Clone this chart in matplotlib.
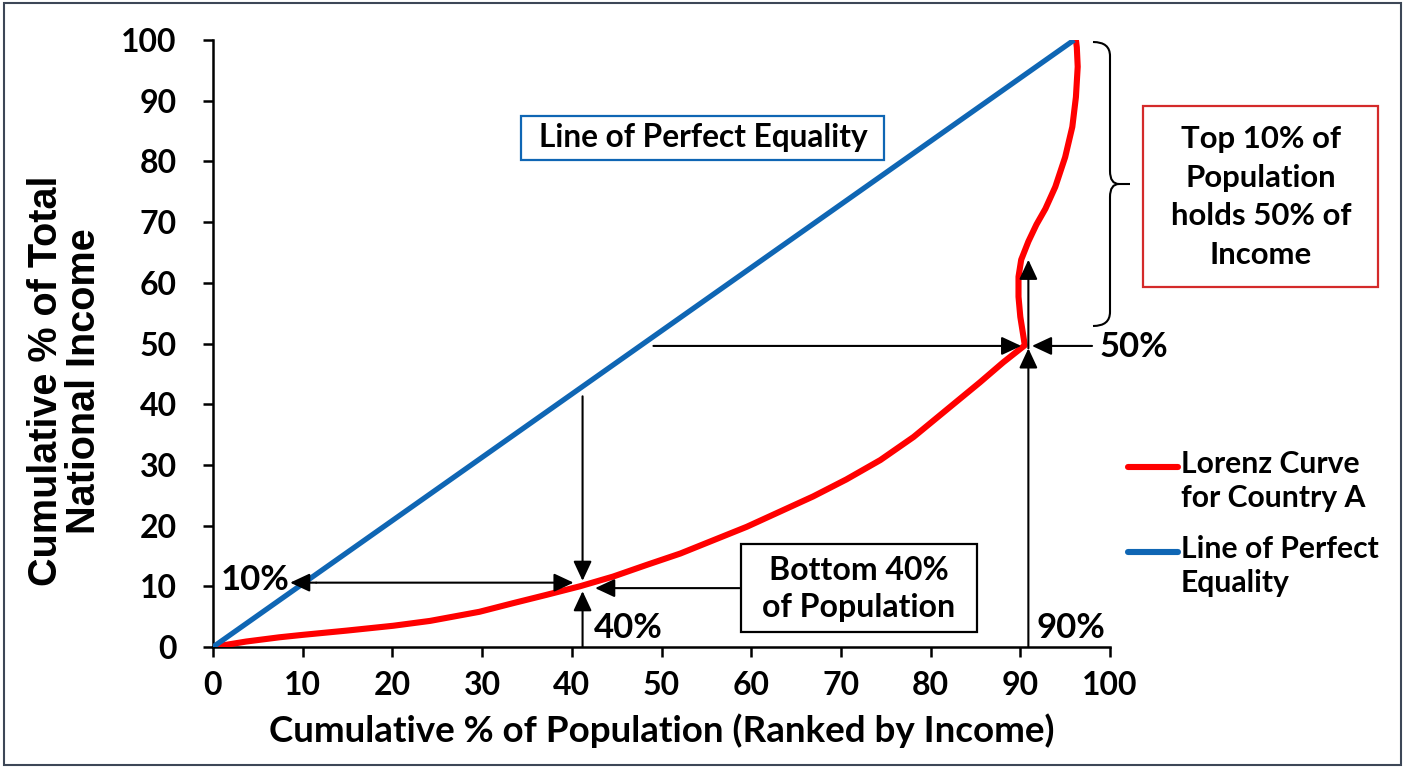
import matplotlib
matplotlib.use("Agg")
import matplotlib.pyplot as plt
from matplotlib.patches import Rectangle, PathPatch
from matplotlib.path import Path
from matplotlib.lines import Line2D

# ---------------- data ----------------
lorenz_population = [0, 3.7, 7.4, 10.0, 14.9, 20.1, 24.2, 29.7, 33.4, 37.2, 40.9,
                     44.6, 48.3, 52.1, 55.8, 59.5, 63.2, 66.9, 70.6, 74.4, 78.1,
                     81.8, 85.5, 88.1, 90.5, 90.3, 90.0, 89.8, 89.8, 90.1, 90.9,
                     91.8, 92.8, 93.9, 95.0, 95.8, 96.2, 96.4, 96.3, 96.2]
lorenz_income = [0, 0.9, 1.6, 2.0, 2.7, 3.5, 4.3, 5.8, 7.2, 8.6, 10.0,
                 11.6, 13.5, 15.4, 17.6, 19.8, 22.3, 24.8, 27.6, 30.8, 34.6,
                 39.1, 43.6, 46.9, 49.7, 51.6, 54.4, 57.7, 61.0, 63.8, 66.8,
                 69.6, 72.2, 75.8, 80.7, 85.7, 90.6, 95.6, 98.8, 100]
equality_population = [0, 96]
equality_income = [0, 100]
x_ticks = [0, 10, 20, 30, 40, 50, 60, 70, 80, 90, 100]
y_ticks = [0, 10, 20, 30, 40, 50, 60, 70, 80, 90, 100]

RED = "#ff0000"
BLUE = "#0f66b4"
FONT = "Lato"

W, H = 1408, 768
fig = plt.figure(figsize=(W / 100, H / 100), dpi=100)


def fx(px):
    return px / W


def fy(py):
    return 1 - py / H


ax = fig.add_axes([fx(213), fy(647), (1110 - 213) / W, (647 - 40) / H])
ax.plot(lorenz_population, lorenz_income, color=RED, lw=4.4,
        solid_joinstyle="round", solid_capstyle="round", zorder=3)
ax.plot(equality_population, equality_income, color=BLUE, lw=3.8,
        solid_capstyle="butt", zorder=3)

ax.set_xlim(0, 100)
ax.set_ylim(0, 100)
ax.set_xticks(x_ticks)
ax.set_yticks(y_ticks)
for s in ["top", "right"]:
    ax.spines[s].set_visible(False)
for s in ["left", "bottom"]:
    ax.spines[s].set_linewidth(1.8)
ax.tick_params(axis="both", direction="out", length=7, width=1.8, labelsize=23)
ax.tick_params(axis="y", pad=19)
ax.tick_params(axis="x", pad=10)
for lab in ax.get_xticklabels() + ax.get_yticklabels():
    lab.set_fontfamily(FONT)
    lab.set_fontweight("bold")

ax.set_xlabel("Cumulative % of Population (Ranked by Income)", fontsize=26.5,
              fontweight="bold", family=FONT, labelpad=10)
fig.text(fx(65), fy(381), "Cumulative % of Total\nNational Income", rotation=90,
         ha="center", va="center", fontsize=28.5, fontweight="bold",
         family="Liberation Sans", linespacing=1.0)

# ---------------- arrows ----------------
arrow_kw = dict(arrowstyle="-|>,head_length=0.6,head_width=0.28", color="black",
                lw=1.5, shrinkA=0, shrinkB=0, mutation_scale=20)
arrows = [
    ((49.1, 49.6), (90.1, 49.6)),
    ((41.2, 41.3), (41.2, 10.9)),
    ((41.2, 0), (41.2, 9.2)),
    ((11.5, 10.6), (40.2, 10.6)),
    ((11.5, 10.6), (8.6, 10.6)),
    ((58.7, 9.7), (42.6, 9.7)),
    ((90.9, 0), (90.9, 49.2)),
    ((90.9, 49.2), (90.9, 63.8)),
    ((98.0, 49.6), (91.3, 49.6)),
]
for start, end in arrows:
    ax.annotate("", xy=end, xytext=start, arrowprops=arrow_kw,
                annotation_clip=False, zorder=4)

# ---------------- labels ----------------
lab_kw = dict(fontsize=25, fontweight="bold", family=FONT, ha="center",
              va="center", clip_on=False)
ax.text(4.7, 11.0, "10%", **lab_kw)
ax.text(46.3, 3.1, "40%", **lab_kw)
ax.text(95.6, 3.1, "90%", **lab_kw)
ax.text(102.7, 49.4, "50%", **lab_kw)

# ---------------- boxes ----------------
def box(x0, y0, x1, y1, color, lw=1.6):
    fig.add_artist(Rectangle((fx(x0), fy(y1)), fx(x1) - fx(x0), fy(y0) - fy(y1),
                             transform=fig.transFigure, fill=True, facecolor="white",
                             edgecolor=color, lw=lw, zorder=5))


box(521, 116, 884, 160, BLUE)
fig.text(fx(703), fy(138), "Line of Perfect Equality", ha="center", va="center",
         fontsize=22.8, fontweight="bold", family=FONT, zorder=6)

box(741, 544, 977, 632, "black")
fig.text(fx(859), fy(589), "Bottom 40%\nof Population", ha="center", va="center",
         fontsize=23, fontweight="bold", family=FONT, linespacing=1.33, zorder=6)

box(1143, 106, 1378, 287, "#d42a2a")
fig.text(fx(1261), fy(197), "Top 10% of\nPopulation\nholds 50% of\nIncome", ha="center",
         va="center", fontsize=22.4, fontweight="bold", family=FONT, linespacing=1.45,
         zorder=6)

# ---------------- brace ----------------
bp = [(1093, 42), (1110, 42), (1110, 56), (1110, 171), (1110, 184), (1119, 184),
      (1130, 184), (1119, 184), (1110, 184), (1110, 197), (1110, 312), (1110, 326),
      (1093, 326)]
codes = [Path.MOVETO, Path.CURVE3, Path.CURVE3, Path.LINETO, Path.CURVE3, Path.CURVE3,
         Path.LINETO, Path.MOVETO, Path.CURVE3, Path.CURVE3, Path.LINETO, Path.CURVE3,
         Path.CURVE3]
brace = Path([(fx(a), fy(b)) for a, b in bp], codes)
fig.add_artist(PathPatch(brace, transform=fig.transFigure, fill=False,
                         edgecolor="black", lw=1.5))

# ---------------- legend (manual) ----------------
leg_items = [(RED, "Lorenz Curve\nfor Country A", 467, 458),
             (BLUE, "Line of Perfect\nEquality", 552, 543)]
for color, label, ly, ty in leg_items:
    fig.add_artist(Line2D([fx(1128), fx(1178)], [fy(ly), fy(ly)], color=color, lw=4.4,
                          transform=fig.transFigure, solid_capstyle="round"))
    fig.text(fx(1181), fy(ty - 8), label, ha="left", va="top", fontsize=21.7,
             fontweight="bold", family=FONT, linespacing=1.25)

# ---------------- outer frame ----------------
fig.add_artist(Rectangle((fx(4), fy(765)), fx(1401) - fx(4), fy(3) - fy(765),
                         transform=fig.transFigure, fill=False, edgecolor="#3d4757",
                         lw=1.5))

fig.savefig("out.png", dpi=100)
